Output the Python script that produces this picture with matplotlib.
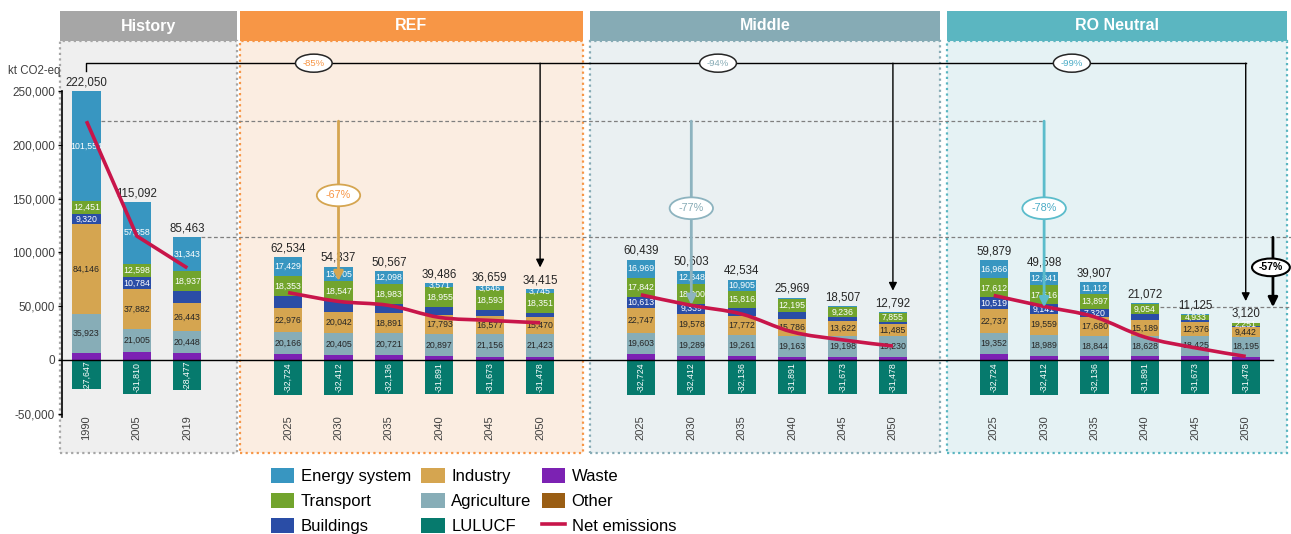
import numpy as np
import matplotlib
matplotlib.use('Agg')
import matplotlib.pyplot as plt
from matplotlib.patches import Rectangle, PathPatch, Patch
from matplotlib.lines import Line2D
from matplotlib.path import Path

plt.rcParams['font.family'] = ['Liberation Sans', 'DejaVu Sans']

# 数据 (kt CO2-eq)
years = ['1990', '2005', '2019'] + ['2025', '2030', '2035', '2040', '2045', '2050'] * 3
energy = [101554, 57358, 31343,
          17429, 13705, 12098, 3571, 3646, 3745,
          16969, 12848, 10905, 1500, 1200, 800,
          16966, 12841, 11112, 1200, 900, 500]
transport = [12451, 12598, 18937,
             18353, 18547, 18983, 18955, 18593, 18351,
             17842, 18000, 15816, 12195, 9236, 7855,
             17612, 17516, 13897, 9054, 4933, 2251]
buildings = [9320, 10784, 10500,
             10934, 9850, 7810, 6800, 5400, 4400,
             10613, 9339, 7150, 6200, 4000, 2200,
             10519, 9141, 7320, 5600, 2200, 1200]
industry = [84146, 37882, 26443,
            22976, 20042, 18891, 17793, 16577, 15470,
            22747, 19578, 17772, 15786, 13622, 11485,
            22737, 19559, 17680, 15189, 12376, 9442]
agriculture = [35923, 21005, 20448,
               20166, 20405, 20721, 20897, 21156, 21423,
               19603, 19289, 19261, 19163, 19198, 19230,
               19352, 18989, 18844, 18628, 18425, 18195]
waste = [6300, 7275, 6269,
         5400, 4200, 4200, 3361, 2960, 2504,
         5389, 3961, 3766, 3016, 2924, 2700,
         5417, 3964, 3190, 3292, 3964, 3010]
other = [0] * 21
lulucf = [-27647, -31810, -28477] + [-32724, -32412, -32136, -31891, -31673, -31478] * 3
net = [222050, 115092, 85463,
       62534, 54337, 50567, 39486, 36659, 34415,
       60439, 50603, 42534, 25969, 18507, 12792,
       59879, 49598, 39907, 21072, 11125, 3120]

# 下降百分比
red_2050 = [-85, -94, -99]
red_2030 = [-67, -77, -78]
red_target = -57

# 不显示标签的段
no_label = {'Buildings': [2, 3, 4, 5, 6, 7, 8, 11, 12, 13, 14, 18, 19, 20],
            'Energy system': [12, 13, 14, 18, 19, 20]}

groups = ['History', 'REF', 'Middle', 'RO Neutral']
x = np.array([0, 1, 2, 4, 5, 6, 7, 8, 9, 11, 12, 13, 14, 15, 16, 18, 19, 20, 21, 22, 23], dtype=float)
grp_idx = [[0, 1, 2], list(range(3, 9)), list(range(9, 15)), list(range(15, 21))]

colors = {'Energy system': '#3896C1', 'Transport': '#72A42D', 'Buildings': '#2A4DA6',
          'Industry': '#D5A550', 'Agriculture': '#87ADB7', 'LULUCF': '#067A6D',
          'Waste': '#7C22B3', 'Other': '#9A5E14', 'Net': '#C8154A'}
head_col = ['#A6A6A6', '#F79646', '#86ABB5', '#5BB6C1']
panel_col = ['#EFEFEF', '#FBEDE1', '#EAF0F2', '#E5F2F4']
pct_col = ['#F79646', '#86ABB5', '#4BACC6']
arr_col = ['#D5A550', '#8DB3BF', '#5BBCCB']

W, H = 1291, 534
fig = plt.figure(figsize=(W / 100, H / 100), dpi=100)

def fx(px):
    return px / W

def fy(py):
    return 1 - py / H

# 背景面板和标题
panels = [(60, 237), (240, 583), (590, 940), (947, 1287)]
for i, (x0, x1) in enumerate(panels):
    fig.add_artist(Rectangle((fx(x0), fy(453)), fx(x1 - x0), (453 - 41) / H, transform=fig.transFigure,
                             fc=panel_col[i], ec=head_col[i], lw=1.6, ls=(0, (1, 1.5)), zorder=-2))
    fig.add_artist(Rectangle((fx(x0), fy(41)), fx(x1 - x0), 30 / H, transform=fig.transFigure,
                             fc=head_col[i], ec='none', zorder=-1))
    fig.text(fx((x0 + x1) / 2), fy(26), groups[i], ha='center', va='center', color='white',
             fontsize=11.5, fontweight='bold')

ax = fig.add_axes([fx(62), fy(453), fx(1280 - 62), (453 - 41) / H])
ax.set_facecolor('none')
ax.set_xlim(-0.486, 23.68)
ax.set_ylim(-86750, 296630)

# 堆积柱
width = 0.56
stack = [('Waste', waste), ('Other', other), ('Agriculture', agriculture), ('Industry', industry),
         ('Buildings', buildings), ('Transport', transport), ('Energy system', energy)]
txt_col = {'Agriculture': '#262626', 'Industry': '#262626', 'Buildings': 'white',
           'Transport': 'white', 'Energy system': 'white'}
bottom = np.zeros(21)
for name, vals in stack:
    vals = np.array(vals, dtype=float)
    ax.bar(x, vals, width, bottom=bottom, color=colors[name], zorder=2)
    if name in txt_col:
        for i in range(21):
            if i in no_label.get(name, []) or vals[i] <= 0:
                continue
            ax.text(x[i], bottom[i] + vals[i] / 2, f'{int(vals[i]):,}', ha='center', va='center',
                    fontsize=6.3, color=txt_col[name], zorder=4)
    bottom += vals
pos_total = bottom.copy()

ax.bar(x, lulucf, width, color=colors['LULUCF'], zorder=2)
for i in range(21):
    ax.text(x[i], lulucf[i] / 2, f'{lulucf[i]:,}', ha='center', va='center', rotation=90,
            fontsize=6.3, color='white', zorder=4)
    ax.text(x[i], pos_total[i] + 2500, f'{net[i]:,}', ha='center', va='bottom', fontsize=8.3,
            color='#262626', zorder=4)
    ax.text(x[i], -52000, years[i], ha='center', va='top', rotation=90, fontsize=8, color='#404040')

# 净排放曲线
def smooth_path(xs, ys):
    pts = np.column_stack([xs, ys])
    n = len(pts)
    verts, codes = [pts[0]], [Path.MOVETO]
    for i in range(n - 1):
        p0, p1, p2, p3 = pts[max(i - 1, 0)], pts[i], pts[i + 1], pts[min(i + 2, n - 1)]
        verts += [p1 + (p2 - p0) / 6, p2 - (p3 - p1) / 6, p2]
        codes += [Path.CURVE4] * 3
    return Path(verts, codes)

net_arr = np.array(net, dtype=float)
ax.plot(x[:3], net_arr[:3], color=colors['Net'], lw=2.6, solid_capstyle='butt', zorder=5)
for g in grp_idx[1:]:
    ax.add_patch(PathPatch(smooth_path(x[g], net_arr[g]), fc='none', ec=colors['Net'], lw=2.6, zorder=5))

# 零线和参考虚线
ax.plot([-0.486, 23.55], [0, 0], color='black', lw=1, zorder=3, clip_on=False)
ax.plot([0.28, 19], [net[0], net[0]], color='#7F7F7F', lw=0.9, ls=(0, (3, 2)), zorder=1)
ax.plot([2.28, 23.9], [pos_total[2], pos_total[2]], color='#7F7F7F', lw=0.9, ls=(0, (3, 2)),
        zorder=1, clip_on=False)
target = pos_total[2] * (1 + red_target / 100)
ax.plot([21.3, 23.9], [target, target], color='#7F7F7F', lw=0.9, ls=(0, (3, 2)), zorder=1, clip_on=False)

# 顶部括号和箭头
top_y = 276000
ax.plot([0, 0, 23], [268500, top_y, top_y], color='black', lw=1, zorder=3)
ends = [8, 14, 20]
lab_x = [4.51, 12.53, 19.55]
for k, i in enumerate(ends):
    ax.annotate('', xy=(x[i], pos_total[i] + 20000), xytext=(x[i], top_y),
                arrowprops=dict(arrowstyle='-|>', color='black', lw=1, mutation_scale=12,
                                shrinkA=0, shrinkB=0), zorder=3)
    ax.text(lab_x[k], top_y, f'{red_2050[k]}%', ha='center', va='center', fontsize=6.8,
            color=pct_col[k], zorder=6,
            bbox=dict(boxstyle='ellipse,pad=0.2', fc='white', ec='#262626', lw=1.1))

# 2030 下降箭头
mid_y = [153000, 141000, 141000]
for k, i in enumerate([4, 10, 16]):
    tip = net[0] * (1 + red_2030[k] / 100)
    ax.annotate('', xy=(x[i], tip), xytext=(x[i], net[0]),
                arrowprops=dict(arrowstyle='-|>', color=arr_col[k], lw=2, mutation_scale=14,
                                shrinkA=0, shrinkB=0), zorder=5)
    ax.text(x[i], mid_y[k], f'{red_2030[k]}%', ha='center', va='center', fontsize=7.8,
            color=pct_col[k], zorder=6,
            bbox=dict(boxstyle='ellipse,pad=0.25', fc='white', ec=arr_col[k], lw=1.3))

# -57% 目标箭头
ax.annotate('', xy=(23.54, target), xytext=(23.54, pos_total[2]),
            arrowprops=dict(arrowstyle='-|>', color='black', lw=2, mutation_scale=14,
                            shrinkA=0, shrinkB=0), zorder=5, annotation_clip=False)
ax.text(23.5, 86000, f'{red_target}%', ha='center', va='center', fontsize=7.5, fontweight='bold',
        color='black', zorder=6, clip_on=False,
        bbox=dict(boxstyle='ellipse,pad=0.12', fc='white', ec='black', lw=1.5))

# 坐标轴
for s in ['top', 'right', 'bottom']:
    ax.spines[s].set_visible(False)
ax.spines['left'].set_color('black')
ax.spines['left'].set_linewidth(1.2)
ax.spines['left'].set_bounds(-53000, 250000)
ax.set_xticks([])
ax.set_yticks(range(-50000, 250001, 50000))
ax.yaxis.set_major_formatter(matplotlib.ticker.FuncFormatter(lambda v, p: f'{int(v):,}'))
ax.tick_params(axis='y', labelsize=8.5, labelcolor='#404040', length=3, width=1, pad=2)
fig.text(fx(8), fy(71), 'kt CO2-eq', ha='left', va='center', fontsize=8.3, color='#404040')

# 图例
handles = [Patch(fc=colors[n]) for n in ['Energy system', 'Transport', 'Buildings', 'Industry',
                                         'Agriculture', 'LULUCF', 'Waste', 'Other']]
handles.append(Line2D([0], [0], color=colors['Net'], lw=2.6))
labels = ['Energy system', 'Transport', 'Buildings', 'Industry', 'Agriculture', 'LULUCF',
          'Waste', 'Other', 'Net emissions']
fig.legend(handles, labels, ncol=3, loc='upper left', bbox_to_anchor=(fx(271), fy(468)),
           frameon=False, fontsize=12, handlelength=1.4, handleheight=1.0,
           handletextpad=0.4, columnspacing=0.6, labelspacing=0.52, borderpad=0, borderaxespad=0)

fig.savefig('out.png', dpi=100)
